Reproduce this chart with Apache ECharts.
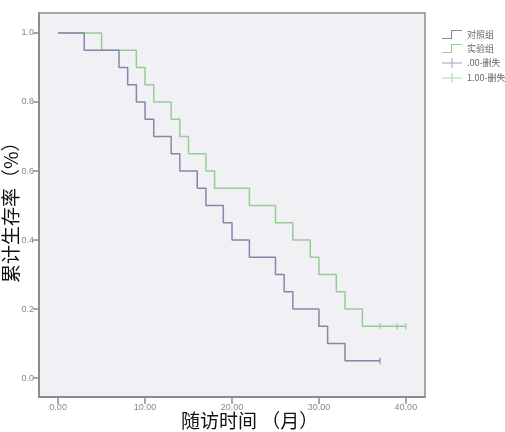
<!DOCTYPE html>
<html>
<head>
<meta charset="utf-8">
<script src="https://cdn.jsdelivr.net/npm/echarts@6/dist/echarts.min.js"></script>
<style>
html,body{margin:0;padding:0;background:#fff;}
#main{width:505px;height:432px;}
</style>
</head>
<body>
<div id="main"></div>
<script>
// survival steps (time in months, cumulative survival)
var ctrlTimes = [0, 3, 7, 8, 9, 10, 11, 13, 14, 16, 17, 19, 20, 22, 25, 26, 27, 30, 31, 33, 37];
var ctrlSurv  = [1.0, 0.95, 0.90, 0.85, 0.80, 0.75, 0.70, 0.65, 0.60, 0.55, 0.50, 0.45, 0.40, 0.35, 0.30, 0.25, 0.20, 0.15, 0.10, 0.05, 0.05];
var expTimes  = [0, 5, 9, 10, 11, 13, 14, 15, 17, 18, 22, 25, 27, 29, 30, 32, 33, 35, 40];
var expSurv   = [1.0, 0.95, 0.90, 0.85, 0.80, 0.75, 0.70, 0.65, 0.60, 0.55, 0.50, 0.45, 0.40, 0.35, 0.30, 0.25, 0.20, 0.15, 0.15];
var ctrlCensorTimes = [37];
var ctrlCensorSurv  = [0.05];
var expCensorTimes  = [37, 39, 40];
var expCensorSurv   = [0.15, 0.15, 0.15];
var xTicks = [0, 10, 20, 30, 40];
var yTicks = [0, 0.2, 0.4, 0.6, 0.8, 1.0];
var names = ['对照组', '实验组', '.00-删失', '1.00-删失'];

var blue = '#8686aa';
var green = '#92cf92';

function pairs(xs, ys) {
  var out = [];
  for (var i = 0; i < xs.length; i++) out.push([xs[i], ys[i]]);
  return out;
}

var stepIcon = 'path://M0,9 L9,9 L9,1 L20,1 L20,2 L10,2 L10,10 L0,10 Z';
var plusIcon = 'path://M0,4.5 L9.5,4.5 L9.5,0 L10.5,0 L10.5,4.5 L20,4.5 L20,5.5 L10.5,5.5 L10.5,10 L9.5,10 L9.5,5.5 L0,5.5 Z';
var tickMark = 'path://M0,0 L1,0 L1,6 L0,6 Z';

var myChart = echarts.init(document.getElementById('main'));
var option = {
  animation: false,
  grid: {
    left: 39, top: 13, right: 80, bottom: 35,
    show: true,
    backgroundColor: '#f1f0f4',
    borderColor: '#8c8c8c',
    borderWidth: 1.5
  },
  legend: {
    orient: 'vertical',
    left: 437, top: 25,
    itemWidth: 20, itemHeight: 10, itemGap: 5,
    textStyle: { fontSize: 9, color: '#666', fontFamily: 'Noto Sans CJK SC' },
    data: [
      { name: names[0], icon: stepIcon, itemStyle: { color: blue } },
      { name: names[1], icon: stepIcon, itemStyle: { color: green } },
      { name: names[2], icon: plusIcon, itemStyle: { color: blue } },
      { name: names[3], icon: plusIcon, itemStyle: { color: green } }
    ]
  },
  xAxis: {
    type: 'value',
    min: -2.2, max: 42.2,
    splitLine: { show: false },
    axisLine: { onZero: false, lineStyle: { color: '#8c8c8c', width: 2 } },
    axisTick: { customValues: xTicks, length: 7, lineStyle: { color: '#8c8c8c', width: 1.5 } },
    axisLabel: {
      customValues: xTicks, fontSize: 9, color: '#888', margin: 6,
      formatter: function (v) { return v.toFixed(2); }
    }
  },
  yAxis: {
    type: 'value',
    min: -0.055, max: 1.058,
    splitLine: { show: false },
    axisLine: { show: true, onZero: false, lineStyle: { color: '#8c8c8c', width: 2 } },
    axisTick: { show: true, customValues: yTicks, length: 6, lineStyle: { color: '#8c8c8c', width: 1.5 } },
    axisLabel: {
      customValues: yTicks, fontSize: 9, color: '#888', margin: 5,
      formatter: function (v) { return v.toFixed(1); }
    }
  },
  graphic: [
    {
      type: 'text', left: 181, top: 411,
      style: { text: '随访时间 （月）', fontSize: 19, fill: '#111', fontFamily: 'Noto Sans CJK SC' }
    },
    {
      type: 'text', x: 11, y: 283, rotation: Math.PI / 2,
      style: { text: '累计生存率（%）', fontSize: 19, fill: '#111', fontFamily: 'Noto Sans CJK SC', align: 'left', verticalAlign: 'middle' }
    }
  ],
  series: [
    {
      name: names[0], type: 'line', step: 'end', showSymbol: false,
      lineStyle: { color: blue, width: 1.5 }, itemStyle: { color: blue },
      data: pairs(ctrlTimes, ctrlSurv), z: 3
    },
    {
      name: names[1], type: 'line', step: 'end', showSymbol: false,
      lineStyle: { color: green, width: 1.5 }, itemStyle: { color: green },
      data: pairs(expTimes, expSurv), z: 2
    },
    {
      name: names[2], type: 'scatter', symbol: tickMark, symbolSize: [1.5, 6],
      itemStyle: { color: blue }, data: pairs(ctrlCensorTimes, ctrlCensorSurv), z: 4
    },
    {
      name: names[3], type: 'scatter', symbol: tickMark, symbolSize: [1.5, 6],
      itemStyle: { color: green }, data: pairs(expCensorTimes, expCensorSurv), z: 4
    }
  ]
};
myChart.setOption(option);
</script>
</body>
</html>
